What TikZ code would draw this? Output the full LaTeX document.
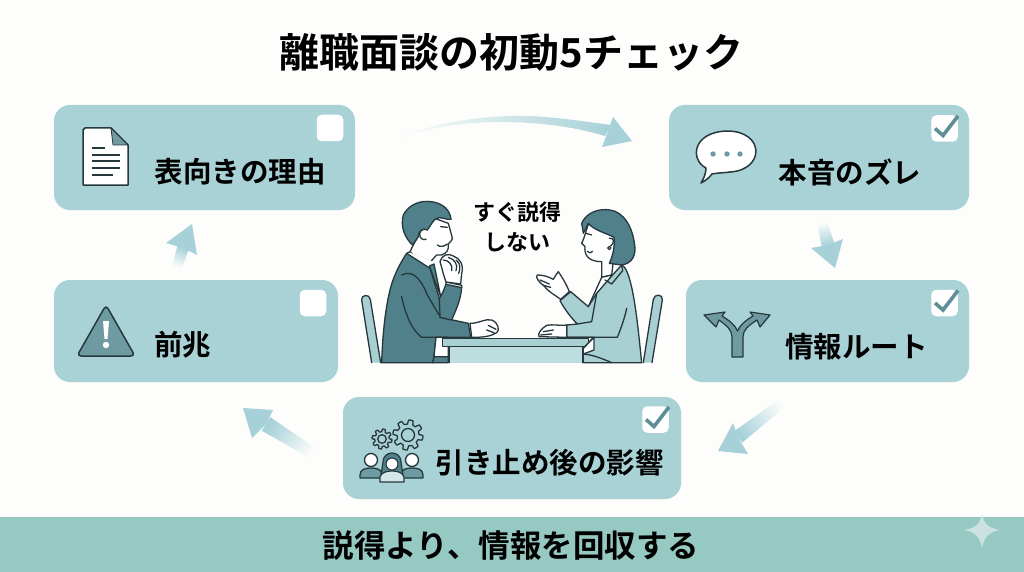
\documentclass[tikz,border=0pt]{standalone}
\usepackage{fontspec}
\setmainfont{Noto Sans CJK JP Bold}
\usetikzlibrary{calc}
\definecolor{paper}{HTML}{FDFDFB}
\definecolor{cardfill}{HTML}{A9D2D7}
\definecolor{bandfill}{HTML}{97C9C3}
\definecolor{flowfill}{HTML}{A6D1D8}
\definecolor{inkline}{HTML}{26383D}
\definecolor{teal}{HTML}{508089}
\definecolor{tealmid}{HTML}{6E9BA2}
\definecolor{paletop}{HTML}{A8CFD2}
\definecolor{tablepale}{HTML}{BEDDDE}
\definecolor{checkmark}{HTML}{5F8F96}
\definecolor{sparkle}{HTML}{CBE2E0}
\tikzset{
  card/.style={fill=cardfill,rounded corners=16pt,inner sep=0pt},
  tasklabel/.style={font=\fontsize{28.5}{30}\selectfont,text=black,inner sep=0pt},
  tickbox/.style={fill=white,rounded corners=5pt,minimum size=26.5pt,inner sep=0pt},
  tick/.style={draw=checkmark,line width=3.6pt,line join=miter},
  figline/.style={draw=inkline,line width=1.3pt,line join=round,line cap=round},
  iconline/.style={draw=inkline,line width=1.5pt,line join=round,line cap=round},
}
% Straight flow arrow: tail, neck, tip, two head corners, shading angle, half widths
\newcommand{\flowarrow}[8]{%
  \shade[top color=flowfill,bottom color=paper,shading angle=#6]
    ($(#1)!#7pt!90:(#2)$) -- ($(#1)!#7pt!-90:(#2)$)
    -- ($(#2)!#8pt!90:(#1)$) -- ($(#2)!#8pt!-90:(#1)$) -- cycle;
  \fill[flowfill] (#3) -- (#4) -- (#2) -- (#5) -- cycle;
}
% Tick drawn over a card's tick box
\newcommand{\tickmark}[1]{%
  \draw[tick] ($(#1.center)+(-9.5,0)$) -- ($(#1.center)+(-1.5,7)$) -- ($(#1.center)+(13.5,-12.5)$);
}
% Toothed wheel for the team icon
\newcommand{\gearwheel}[4]{%
  \draw[iconline,fill=cardfill,line width=1.3pt] plot[samples=121,domain=0:360]
    ({#1+(#3+#3*0.16*min(1,max(-1,3*sin(8*\x))))*cos(\x)},{#2+(#3+#3*0.16*min(1,max(-1,3*sin(8*\x))))*sin(\x)}) -- cycle;
  \draw[iconline,fill=#4,line width=1.3pt] (#1,#2) circle ({#3*0.5});
}
% Head and shoulders for the team icon
\newcommand{\teamperson}[3]{%
  \draw[iconline,fill=#3,line width=1.3pt] (#1-11,#2+18) -- (#1-11,#2+15) .. controls (#1-11,#2+9) and (#1-5,#2+8) .. (#1,#2+8)
    .. controls (#1+5,#2+8) and (#1+11,#2+9) .. (#1+11,#2+15) -- (#1+11,#2+18) -- cycle;
  \draw[iconline,fill=white,line width=1.3pt] (#1,#2) circle (6.5);
}
\begin{document}
\begin{tikzpicture}[x=1pt,y=-1pt]
\useasboundingbox (0,0) rectangle (1024,572);
\fill[paper] (0,0) rectangle (1024,572);

% Heading and footer band
\node[inner sep=0pt,font=\fontsize{40}{44}\selectfont,text=black] (heading) at (511.5,52) {離職面談の初動5チェック};
\fill[bandfill] (0,517) rectangle (1024,572);
\node[inner sep=0pt,font=\fontsize{31.5}{34}\selectfont,text=black] (footer) at (511,546) {説得より、情報を回収する};
\fill[sparkle] (982,514) .. controls (984,524) and (988,528) .. (1000,530)
  .. controls (988,532) and (984,538) .. (982,548)
  .. controls (980,538) and (976,532) .. (964,530)
  .. controls (976,528) and (980,524) .. (982,514) -- cycle;

% Task cards
\node[card,minimum width=301pt,minimum height=105pt] (reason) at (204.5,157.5) {};
\node[card,minimum width=300pt,minimum height=105pt] (honest) at (819,157.5) {};
\node[card,minimum width=284pt,minimum height=102pt] (signs) at (196,331) {};
\node[card,minimum width=283pt,minimum height=102pt] (route) at (827.5,331) {};
\node[card,minimum width=338pt,minimum height=102pt] (impact) at (512,448) {};

\node[tasklabel] (reasontext) at (240,172) {表向きの理由};
\node[tasklabel] (honesttext) at (850,172) {本音のズレ};
\node[tasklabel] (signstext) at (182.5,345) {前兆};
\node[tasklabel] (routetext) at (856.5,347) {情報ルート};
\node[tasklabel] (impacttext) at (549.5,463) {引き止め後の影響};

% Tick boxes
\node[tickbox] (reasonbox) at (330,128) {};
\node[tickbox] (signsbox) at (313,303) {};
\node[tickbox] (honestbox) at (944.5,128.5) {};
\node[tickbox] (routebox) at (944.5,303) {};
\node[tickbox] (impactbox) at (655.5,419.5) {};
\tickmark{honestbox}
\tickmark{routebox}
\tickmark{impactbox}

% Flow arrows between the cards
\coordinate (f1tail) at (398,138);
\coordinate (f1tip) at (632,141);
\shade[left color=paper,right color=flowfill]
  (f1tail) .. controls (440,120) and (500,113) .. (545,117)
  .. controls (570,119) and (595,123) .. (611,125)
  -- (605,136) .. controls (575,127) and (540,122) .. (500,122)
  .. controls (460,122) and (430,128) .. (f1tail) -- cycle;
\fill[flowfill] (f1tip) -- (613,117) -- (608,131) -- (602,147) -- cycle;

\coordinate (f2tail) at (822,222);
\coordinate (f2neck) at (828,245);
\coordinate (f2tip) at (835,268);
\coordinate (f2a) at (811,248);
\coordinate (f2b) at (843,239);
\flowarrow{f2tail}{f2neck}{f2tip}{f2a}{f2b}{-165}{5}{6.5}

\coordinate (f3tail) at (786,400);
\coordinate (f3neck) at (738,437);
\coordinate (f3tip) at (718,451);
\coordinate (f3a) at (733,423);
\coordinate (f3b) at (748,454);
\flowarrow{f3tail}{f3neck}{f3tip}{f3a}{f3b}{128}{4.5}{7}

\coordinate (f4tail) at (316,455);
\coordinate (f4neck) at (266,424);
\coordinate (f4tip) at (243,408);
\coordinate (f4a) at (273,410);
\coordinate (f4b) at (252,438);
\flowarrow{f4tail}{f4neck}{f4tip}{f4a}{f4b}{58}{5.5}{8}

\coordinate (f5tail) at (177,267);
\coordinate (f5neck) at (183,248);
\coordinate (f5tip) at (192,224);
\coordinate (f5a) at (166,243);
\coordinate (f5b) at (197,255);
\flowarrow{f5tail}{f5neck}{f5tip}{f5a}{f5b}{-18}{5}{6}

% Document icon
\draw[iconline,fill=white] (85,128) -- (111,128) -- (128,145) -- (128,185) -- (83,185) -- (83,130) -- cycle;
\draw[iconline,fill=teal!80!white,line width=0.8pt] (111,128) -- (128,145) -- (113,145) -- cycle;
\foreach \ly/\lx in {148/105,155/120,161/120,168/120,175/113}
  \draw[draw=inkline,line width=1.1pt] (92,\ly) -- (\lx,\ly);

% Speech bubble icon
\draw[iconline,fill=white] (706,168) .. controls (690,160) and (692,132) .. (727,131)
  .. controls (765,131) and (765,170) .. (730,172)
  .. controls (722,173) and (716,173) .. (712,174)
  .. controls (709,178) and (705,181) .. (701,183)
  .. controls (704,178) and (706,173) .. (706,168) -- cycle;
\foreach \dx in {713,727,740} \fill[tealmid] (\dx,154) circle (2.7);

% Splitting road icon
\draw[iconline,fill=tealmid,line width=1.2pt] (732,357) -- (743,357) -- (743,337)
  .. controls (743,330) and (748,326) .. (757,320) -- (760,327) -- (770,315) -- (750,312) -- (753,316)
  .. controls (745,321) and (740,325) .. (737.5,331)
  .. controls (735,325) and (730,321) .. (722,316) -- (725,312) -- (704,315) -- (716,327) -- (719,320)
  .. controls (727,326) and (732,330) .. (732,337) -- cycle;

% Warning triangle icon
\draw[iconline,fill=tealmid,rounded corners=4pt] (106,305) -- (135,356) -- (77,356) -- cycle;
\fill[white] (103,321) -- (109,321) -- (107.5,339) -- (104.5,339) -- cycle;
\fill[white] (106,345) circle (3.2);

% Team icon
\gearwheel{408}{435}{13}{cardfill}
\gearwheel{382}{439}{8.6}{cardfill}
\teamperson{371}{460}{tealmid}
\teamperson{412}{460}{tealmid}
\draw[iconline,fill=teal,line width=1.2pt] (383,462) .. controls (383,450) and (401,450) .. (401,462) -- (403,475) -- (381,475) -- cycle;
\draw[iconline,fill=paletop!50!white,line width=1.2pt] (380,482) -- (380,477) .. controls (381,472) and (388,471) .. (392,471)
  .. controls (396,471) and (403,472) .. (404,477) -- (404,482) -- cycle;
\draw[iconline,fill=white,line width=1.1pt] (392,464) circle (6);

% Conversation scene
\node[inner sep=0pt,font=\fontsize{22}{30}\selectfont,text=black,align=center] (caption) at (517,227) {すぐ説得\\しない};

\begin{scope}[shift={(340,180)},x=0.33333pt,y=-0.33333pt]
  % Chairs
  \draw[figline,fill=paletop] (95,548) -- (65,360) .. controls (62,345) and (88,340) .. (91,358) -- (122,548);
  \draw[figline,fill=paletop] (910,548) -- (940,358) .. controls (943,340) and (970,342) .. (967,360) -- (936,548);

  % Man: head
  \draw[figline,fill=white] (225,185) -- (210,215) -- (272,245) -- (290,225) -- (305,225)
    .. controls (320,220) and (327,210) .. (325,192) .. controls (330,185) and (340,180) .. (336,170)
    -- (325,130) -- (270,110) -- cycle;
  \draw[figline,fill=teal] (218,195) .. controls (195,175) and (180,140) .. (190,105)
    .. controls (205,75) and (240,58) .. (280,66) .. controls (310,72) and (330,90) .. (333,118)
    .. controls (320,122) and (300,105) .. (285,118) .. controls (275,128) and (270,140) .. (262,150)
    .. controls (250,145) and (235,150) .. (235,170) -- cycle;
  \draw[figline,fill=white] (262,150) .. controls (248,142) and (235,155) .. (240,170) .. controls (245,180) and (255,180) .. (258,178);
  \draw[figline] (292,195) .. controls (300,202) and (312,200) .. (322,192);
  \draw[figline] (302,140) -- (322,142);

  % Man: shirt and tie
  \fill[white] (210,212) -- (278,245) -- (302,350) -- (262,265) -- cycle;
  % Man: jacket
  \draw[figline,fill=teal] (125,548) .. controls (128,450) and (140,340) .. (165,285)
    .. controls (175,260) and (190,235) .. (200,220) -- (270,265) -- (298,355) -- (300,412)
    -- (385,430) -- (392,472) -- (288,472) -- (280,548) -- cycle;
  \draw[figline,fill=teal] (268,258) -- (282,252) -- (302,350) -- cycle;
  \draw[figline,fill=white] (288,472) -- (325,472) -- (325,530) -- (282,530) -- cycle;
  \draw[figline,fill=teal] (282,530) -- (325,530) -- (325,548) -- (278,548) -- cycle;
  \draw[figline] (185,350) .. controls (195,400) and (215,450) .. (245,472) -- (288,472);
  \draw[figline] (185,285) .. controls (215,270) and (240,290) .. (262,345) -- (297,405);
  \draw[figline] (200,220) -- (210,215);
  % Man: raised sleeve and fist
  \draw[figline,fill=teal] (300,412) -- (335,420) .. controls (350,385) and (362,360) .. (365,322)
    -- (318,312) .. controls (310,335) and (300,355) .. (298,355) -- cycle;
  \draw[figline,fill=white] (318,306) -- (365,316) -- (365,323) -- (318,313) -- cycle;
  \draw[figline,fill=white] (318,306) .. controls (310,285) and (305,260) .. (300,245)
    .. controls (305,225) and (325,218) .. (340,228) .. controls (360,235) and (372,255) .. (365,280)
    -- (362,312) -- cycle;
  \draw[figline] (310,240) .. controls (325,240) and (340,255) .. (335,272);
  \draw[figline] (325,232) .. controls (345,238) and (355,255) .. (348,272);
  \draw[figline] (348,240) .. controls (362,250) and (362,265) .. (356,280);
  % Man: forward hand
  \draw[figline,fill=white] (390,430) .. controls (420,430) and (435,415) .. (455,420)
    .. controls (475,428) and (480,450) .. (470,458) .. controls (450,470) and (430,472) .. (395,472) -- cycle;
  \draw[figline] (445,436) -- (468,448);
  \draw[figline] (440,450) -- (462,458);

  % Table
  \fill[tablepale] (328,500) rectangle (728,548);
  \draw[figline] (328,500) -- (328,548);
  \draw[figline] (728,500) -- (728,548);
  \draw[figline,fill=paletop] (308,475) rectangle (746,499);

  % Woman: face and neck
  \draw[figline,fill=white] (748,125) .. controls (738,150) and (735,170) .. (725,190)
    .. controls (728,197) and (735,195) .. (735,200) .. controls (732,225) and (745,245) .. (785,245)
    -- (785,292) -- (815,285) -- (830,160) -- cycle;
  % Woman: hair
  \draw[figline,fill=teal] (725,130) .. controls (740,95) and (780,85) .. (810,90)
    .. controls (850,95) and (880,140) .. (885,205) .. controls (885,230) and (875,250) .. (845,255)
    -- (808,250) .. controls (820,225) and (825,195) .. (822,172)
    .. controls (800,160) and (760,150) .. (745,130) -- (730,160) -- cycle;
  \draw[figline,fill=white] (808,175) .. controls (822,170) and (825,190) .. (812,198);
  \draw[figline,fill=white] (808,204) circle (5);
  \draw[figline] (742,214) .. controls (748,220) and (752,220) .. (758,214);
  \draw[figline] (738,160) -- (755,165);

  % Woman: jacket
  \draw[figline,fill=white] (785,292) -- (815,285) -- (765,380) -- (745,380) -- cycle;
  \draw[figline,fill=paletop] (905,548) .. controls (895,450) and (885,350) .. (868,295)
    .. controls (860,270) and (855,260) .. (845,255) -- (815,288) -- (770,340) -- (745,380)
    -- (692,335) -- (660,362) .. controls (675,390) and (695,415) .. (712,432)
    -- (680,435) -- (680,472) -- (760,472) -- (730,505) -- (730,548) -- cycle;
  \draw[figline,fill=white] (730,505) -- (762,472) -- (762,510) -- (730,522) -- cycle;
  \draw[figline] (730,522) .. controls (760,525) and (785,535) .. (815,548);
  \draw[figline] (680,472) -- (832,472) .. controls (845,440) and (855,410) .. (860,385);
  \draw[figline] (712,432) -- (755,425) -- (770,340);
  \draw[figline] (845,255) -- (848,272) -- (815,312) -- (795,300);
  % Woman: hands
  \draw[figline,fill=white] (662,358) .. controls (645,345) and (625,335) .. (612,318)
    .. controls (595,305) and (585,290) .. (592,285) .. controls (610,285) and (625,290) .. (640,298)
    .. controls (645,290) and (650,280) .. (655,275) .. controls (665,290) and (678,310) .. (688,335) -- cycle;
  \draw[figline] (600,300) -- (628,312);
  \draw[figline] (610,316) -- (632,322);
  \draw[figline,fill=white] (680,435) .. controls (655,438) and (640,432) .. (620,436)
    .. controls (605,445) and (592,460) .. (597,470) -- (680,472) -- cycle;
  \draw[figline] (610,455) -- (640,450);
  \draw[figline] (602,465) -- (635,462);
\end{scope}
\end{tikzpicture}
\end{document}
